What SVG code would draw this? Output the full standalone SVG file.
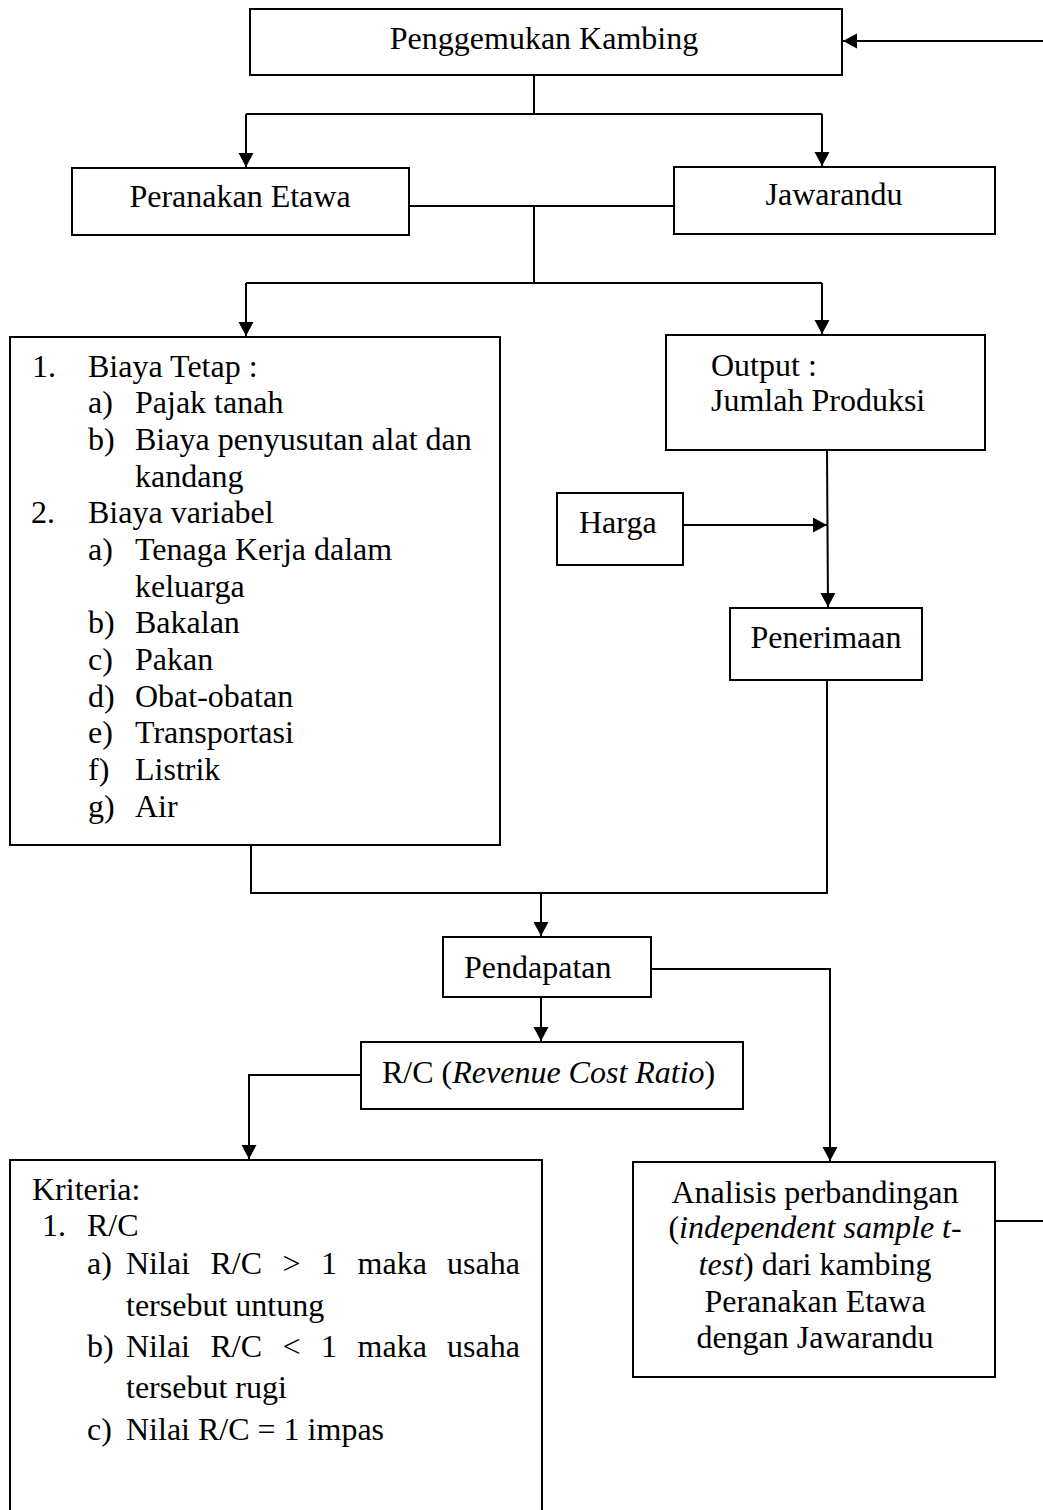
<svg xmlns="http://www.w3.org/2000/svg" width="1043" height="1510" viewBox="0 0 1043 1510">
<style>
text{font-family:"Liberation Serif","Times New Roman",serif;font-size:32px;fill:#000}
.c{text-anchor:middle}
.i{font-style:italic}
.box{fill:#fff;stroke:#000;stroke-width:2}
.ln{fill:none;stroke:#000;stroke-width:2}
</style>
<defs>
<marker id="ah" markerUnits="userSpaceOnUse" markerWidth="15" markerHeight="16" refX="14" refY="7.5" orient="auto">
<path d="M0,0 L14,7.5 L0,15 z" fill="#000"/>
</marker>
</defs>
<rect width="1043" height="1510" fill="#fff"/>
<g id="connectors">
<path class="ln" d="M534,75 V114"/>
<path class="ln" d="M246,114 H822"/>
<path class="ln" d="M246,114 V167" marker-end="url(#ah)"/>
<path class="ln" d="M822,114 V166" marker-end="url(#ah)"/>
<path class="ln" d="M409,206 H674"/>
<path class="ln" d="M534,206 V283"/>
<path class="ln" d="M246,283 H822"/>
<path class="ln" d="M246,283 V336" marker-end="url(#ah)"/>
<path class="ln" d="M822,283 V334" marker-end="url(#ah)"/>
<path class="ln" d="M827,451 L828,607" marker-end="url(#ah)"/>
<path class="ln" d="M683,525 H827" marker-end="url(#ah)"/>
<path class="ln" d="M827,680 V893 H251 V845"/>
<path class="ln" d="M541,893 V936" marker-end="url(#ah)"/>
<path class="ln" d="M541,997 V1041" marker-end="url(#ah)"/>
<path class="ln" d="M651,969 H830 V1161" marker-end="url(#ah)"/>
<path class="ln" d="M361,1075 H249 V1159" marker-end="url(#ah)"/>
<path class="ln" d="M995,1221 H1047 V41 H843" marker-end="url(#ah)"/>
</g>
<g id="n-penggemukan">
<rect class="box" x="250" y="9" width="592" height="66"/>
<text class="c" x="544" y="49">Penggemukan Kambing</text>
</g>
<g id="n-peranakan">
<rect class="box" x="72" y="168" width="337" height="67"/>
<text class="c" x="240" y="207">Peranakan Etawa</text>
</g>
<g id="n-jawarandu">
<rect class="box" x="674" y="167" width="321" height="67"/>
<text class="c" x="834" y="205">Jawarandu</text>
</g>
<g id="n-biaya">
<rect class="box" x="10" y="337" width="490" height="508"/>
<text x="32" y="377">1.</text><text x="88" y="377">Biaya Tetap :</text>
<text x="88" y="413">a)</text><text x="135" y="413">Pajak tanah</text>
<text x="88" y="450">b)</text><text x="135" y="450">Biaya penyusutan alat dan</text>
<text x="135" y="487">kandang</text>
<text x="31" y="523">2.</text><text x="88" y="523">Biaya variabel</text>
<text x="88" y="560">a)</text><text x="135" y="560">Tenaga Kerja dalam</text>
<text x="135" y="597">keluarga</text>
<text x="88" y="633">b)</text><text x="135" y="633">Bakalan</text>
<text x="88" y="670">c)</text><text x="135" y="670">Pakan</text>
<text x="88" y="707">d)</text><text x="135" y="707">Obat-obatan</text>
<text x="88" y="743">e)</text><text x="135" y="743">Transportasi</text>
<text x="88" y="780">f)</text><text x="135" y="780">Listrik</text>
<text x="88" y="817">g)</text><text x="135" y="817">Air</text>
</g>
<g id="n-output">
<rect class="box" x="666" y="335" width="319" height="115"/>
<text x="711" y="376">Output :</text>
<text x="711" y="411">Jumlah Produksi</text>
</g>
<g id="n-harga">
<rect class="box" x="557" y="493" width="126" height="72"/>
<text x="579" y="533">Harga</text>
</g>
<g id="n-penerimaan">
<rect class="box" x="730" y="608" width="192" height="72"/>
<text class="c" x="826" y="648">Penerimaan</text>
</g>
<g id="n-pendapatan">
<rect class="box" x="443" y="937" width="208" height="60"/>
<text x="464" y="978">Pendapatan</text>
</g>
<g id="n-rc">
<rect class="box" x="361" y="1042" width="382" height="67"/>
<text x="382" y="1083">R/C (<tspan class="i">Revenue Cost Ratio</tspan>)</text>
</g>
<g id="n-kriteria">
<rect class="box" x="10" y="1160" width="532" height="370"/>
<text x="32" y="1200">Kriteria:</text>
<text x="42" y="1236">1.</text><text x="87" y="1236">R/C</text>
<text x="87" y="1274">a)</text>
<text y="1274"><tspan x="126">Nilai</tspan><tspan x="210.5">R/C</tspan><tspan x="282.6">&gt;</tspan><tspan x="321">1</tspan><tspan x="357.6">maka</tspan><tspan x="447">usaha</tspan></text>
<text x="126" y="1316">tersebut untung</text>
<text x="87" y="1357">b)</text>
<text y="1357"><tspan x="126">Nilai</tspan><tspan x="210.5">R/C</tspan><tspan x="282.6">&lt;</tspan><tspan x="321">1</tspan><tspan x="357.6">maka</tspan><tspan x="447">usaha</tspan></text>
<text x="126" y="1398">tersebut rugi</text>
<text x="87" y="1440">c)</text><text x="126" y="1440">Nilai R/C = 1 impas</text>
</g>
<g id="n-analisis">
<rect class="box" x="633" y="1162" width="362" height="215"/>
<text class="c" x="815" y="1203">Analisis perbandingan</text>
<text class="c" x="815" y="1238">(<tspan class="i">independent sample t-</tspan></text>
<text class="c" x="815" y="1275"><tspan class="i">test</tspan>) dari kambing</text>
<text class="c" x="815" y="1312">Peranakan Etawa</text>
<text class="c" x="815" y="1348">dengan Jawarandu</text>
</g>
</svg>
